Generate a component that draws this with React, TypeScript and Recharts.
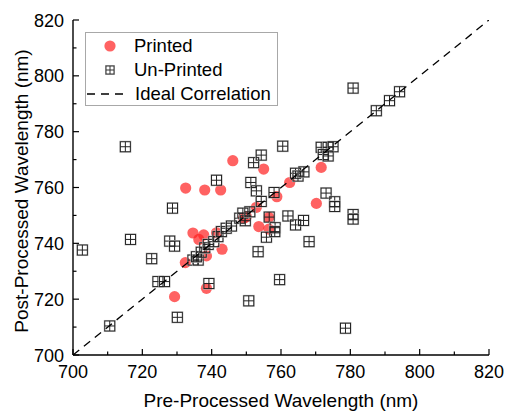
import React from 'react';
import { ScatterChart, Scatter, XAxis, YAxis, Legend, Label } from 'recharts';

// ---- Data ----
const printedX = [732.5, 738.0, 742.6, 746.1, 755.0, 758.8, 762.5, 771.6, 770.2, 752.9, 750.0, 756.5, 753.6, 756.5, 734.6, 737.7, 736.3, 741.4, 743.0, 738.5, 732.4, 729.3, 738.5, 749.2];
const printedY = [759.8, 759.1, 759.1, 769.6, 766.6, 756.7, 761.8, 767.2, 754.3, 752.9, 749.5, 749.3, 746.0, 745.1, 743.7, 743.0, 741.4, 743.8, 737.9, 735.5, 733.1, 720.9, 723.9, 749.0];

const unprintedX = [702.7, 710.6, 715.1, 716.6, 722.7, 724.5, 726.4, 728.7, 727.9, 729.3, 730.1, 734.6, 736.1, 735.6, 737.0, 738.0, 739.0, 740.6, 741.8, 742.8, 744.2, 745.7, 739.2, 741.4, 748.1, 749.0, 749.7, 751.0, 750.7, 751.3, 752.1, 752.9, 753.4, 754.3, 754.3, 755.8, 756.6, 758.0, 758.3, 758.2, 759.6, 760.5, 762.0, 764.2, 764.2, 764.9, 766.6, 766.5, 768.1, 771.6, 773.6, 775.0, 772.2, 773.6, 773.0, 775.5, 775.5, 778.6, 780.8, 780.8, 780.8, 787.5, 791.3, 794.2];
const unprintedY = [737.6, 710.4, 774.6, 741.4, 734.5, 726.3, 726.3, 752.6, 740.8, 739.0, 713.5, 734.0, 734.0, 735.2, 736.8, 738.4, 739.6, 740.6, 742.4, 744.2, 745.4, 746.2, 725.6, 762.6, 749.0, 750.8, 748.1, 751.3, 719.4, 761.8, 768.9, 758.8, 737.0, 771.6, 755.0, 742.2, 749.4, 758.2, 745.6, 744.2, 727.0, 774.8, 749.8, 746.6, 765.1, 764.1, 765.6, 748.2, 740.6, 774.4, 774.4, 774.6, 771.8, 771.3, 758.0, 754.9, 753.2, 709.6, 750.3, 748.7, 795.6, 787.5, 791.1, 794.3];

const idealX = [700, 820];
const idealY = [700, 820];

const seriesNames = ['Printed', 'Un-Printed', 'Ideal Correlation'];
const axisTicks = [700, 710, 720, 730, 740, 750, 760, 770, 780, 790, 800, 810, 820];
const xTitle = 'Pre-Processed Wavelength (nm)';
const yTitle = 'Post-Processed Wavelength (nm)';

const printedData = printedX.map((x, i) => ({ x, y: printedY[i] }));
const unprintedData = unprintedX.map((x, i) => ({ x, y: unprintedY[i] }));
const idealData = idealX.map((x, i) => ({ x, y: idealY[i] }));

const FONT = 'Arial, "Liberation Sans", Helvetica, sans-serif';
const RED = '#ff2020';
const MAJOR = 6;
const MINOR = 3.5;

const isMajor = (v: number) => v % 20 === 0;

const BottomTick = (props: any) => {
  const { x, y, payload } = props;
  const v = payload.value;
  return (
    <g>
      <line x1={x} x2={x} y1={y} y2={y - (isMajor(v) ? MAJOR : MINOR)} stroke="#000" strokeWidth={1.2} />
      {isMajor(v) && (
        <text x={x} y={y + 23} textAnchor="middle" fontSize={18} fontFamily={FONT} fill="#000">
          {v}
        </text>
      )}
    </g>
  );
};

const TopTick = (props: any) => {
  const { x, y, payload } = props;
  const v = payload.value;
  return <line x1={x} x2={x} y1={y} y2={y + (isMajor(v) ? MAJOR : MINOR)} stroke="#000" strokeWidth={1.2} />;
};

const LeftTick = (props: any) => {
  const { x, y, payload } = props;
  const v = payload.value;
  return (
    <g>
      <line x1={x} x2={x + (isMajor(v) ? MAJOR : MINOR)} y1={y} y2={y} stroke="#000" strokeWidth={1.2} />
      {isMajor(v) && (
        <text x={x - 9} y={y + 6.5} textAnchor="end" fontSize={18} fontFamily={FONT} fill="#000">
          {v}
        </text>
      )}
    </g>
  );
};

const RightTick = (props: any) => {
  const { x, y, payload } = props;
  const v = payload.value;
  return <line x1={x} x2={x - (isMajor(v) ? MAJOR : MINOR)} y1={y} y2={y} stroke="#000" strokeWidth={1.2} />;
};

const CircleShape = (props: any) => {
  const { cx, cy } = props;
  return <circle cx={cx} cy={cy} r={5.6} fill={RED} fillOpacity={0.7} stroke="none" />;
};

const SquareShape = (props: any) => {
  const { cx, cy } = props;
  const h = 5;
  return (
    <g>
      <rect x={cx - h - 0.5} y={cy - h - 0.5} width={2 * h + 1} height={2 * h + 1} fill="none" stroke="#bbb" strokeWidth={1} />
      <rect x={cx - h} y={cy - h} width={2 * h} height={2 * h} fill="none" stroke="#222" strokeWidth={1} />
      <line x1={cx - h} x2={cx + h} y1={cy} y2={cy} stroke="#222" strokeWidth={1} />
      <line x1={cx} x2={cx} y1={cy - h} y2={cy + h} stroke="#222" strokeWidth={1} />
    </g>
  );
};

const NoShape = () => <g />;

const LegendContent = () => {
  const rowStyle: React.CSSProperties = { display: 'flex', alignItems: 'center', height: 24 };
  const iconBox: React.CSSProperties = { width: 48, display: 'flex', justifyContent: 'center' };
  const textStyle: React.CSSProperties = { fontSize: 18.5, fontFamily: FONT, color: '#000', lineHeight: '24px' };
  return (
    <div
      style={{
        width: 191,
        height: 71,
        border: '1px solid #a8a8a8',
        background: '#fff',
        boxSizing: 'content-box',
        paddingTop: 1,
      }}
    >
      <div style={rowStyle}>
        <div style={iconBox}>
          <svg width={14} height={14}>
            <circle cx={7} cy={7} r={5.6} fill={RED} fillOpacity={0.7} />
          </svg>
        </div>
        <span style={textStyle}>{seriesNames[0]}</span>
      </div>
      <div style={rowStyle}>
        <div style={iconBox}>
          <svg width={12} height={12}>
            <rect x={1.5} y={1.5} width={9} height={9} fill="none" stroke="#bbb" />
            <rect x={2} y={2} width={8} height={8} fill="none" stroke="#333" />
            <line x1={2} x2={10} y1={6} y2={6} stroke="#333" />
            <line x1={6} x2={6} y1={2} y2={10} stroke="#333" />
          </svg>
        </div>
        <span style={textStyle}>{seriesNames[1]}</span>
      </div>
      <div style={rowStyle}>
        <div style={{ width: 48, display: 'flex', justifyContent: 'flex-start', paddingLeft: 1 }}>
          <svg width={42} height={4}>
            <line x1={0} x2={42} y1={2} y2={2} stroke="#000" strokeWidth={1.3} strokeDasharray="8 6" />
          </svg>
        </div>
        <span style={textStyle}>{seriesNames[2]}</span>
      </div>
    </div>
  );
};

const XTitle = () => (
  <text x={281} y={407} textAnchor="middle" fontSize={19} fontFamily={FONT} fill="#000">
    {xTitle}
  </text>
);

const YTitle = () => (
  <text
    x={0}
    y={0}
    transform="translate(28,191) rotate(-90)"
    textAnchor="middle"
    fontSize={19}
    fontFamily={FONT}
    fill="#000"
  >
    {yTitle}
  </text>
);

export default function App() {
  return (
    <div style={{ position: 'absolute', left: 0, top: 0, width: 506, height: 411, background: '#fff', fontFamily: FONT }}>
      <ScatterChart width={506} height={411} margin={{ top: 20, right: 17, bottom: 0, left: 0 }}>
        <XAxis
          xAxisId={0}
          type="number"
          dataKey="x"
          domain={[700, 820]}
          ticks={axisTicks}
          interval={0}
          height={56}
          tickSize={0}
          tickMargin={0}
          tickLine={false}
          axisLine={{ stroke: '#000', strokeWidth: 1.4 }}
          tick={<BottomTick />}
          allowDataOverflow
        >
          <Label content={<XTitle />} />
        </XAxis>
        <XAxis
          xAxisId="top"
          orientation="top"
          type="number"
          dataKey="x"
          domain={[700, 820]}
          ticks={axisTicks}
          interval={0}
          height={0}
          tickSize={0}
          tickMargin={0}
          tickLine={false}
          axisLine={{ stroke: '#000', strokeWidth: 1.4 }}
          tick={<TopTick />}
          allowDataOverflow
        />
        <YAxis
          yAxisId={0}
          type="number"
          dataKey="y"
          domain={[700, 820]}
          ticks={axisTicks}
          interval={0}
          width={73}
          tickSize={0}
          tickMargin={0}
          tickLine={false}
          axisLine={{ stroke: '#000', strokeWidth: 1.4 }}
          tick={<LeftTick />}
          allowDataOverflow
        >
          <Label content={<YTitle />} />
        </YAxis>
        <YAxis
          yAxisId="right"
          orientation="right"
          type="number"
          dataKey="y"
          domain={[700, 820]}
          ticks={axisTicks}
          interval={0}
          width={0}
          tickSize={0}
          tickMargin={0}
          tickLine={false}
          axisLine={{ stroke: '#000', strokeWidth: 1.4 }}
          tick={<RightTick />}
          allowDataOverflow
        />
        <Legend
          layout="vertical"
          align="center"
          verticalAlign="middle"
          content={<LegendContent />}
          wrapperStyle={{ position: 'absolute', left: 85, top: 32, width: 'auto' }}
        />
        <Scatter name={seriesNames[0]} data={printedData} shape={<CircleShape />} isAnimationActive={false} />
        <Scatter name={seriesNames[1]} data={unprintedData} shape={<SquareShape />} isAnimationActive={false} />
        <Scatter
          name={seriesNames[2]}
          data={idealData}
          shape={<NoShape />}
          line={{ stroke: '#000', strokeWidth: 1.3, strokeDasharray: '8 6' }}
          isAnimationActive={false}
        />
      </ScatterChart>
    </div>
  );
}
